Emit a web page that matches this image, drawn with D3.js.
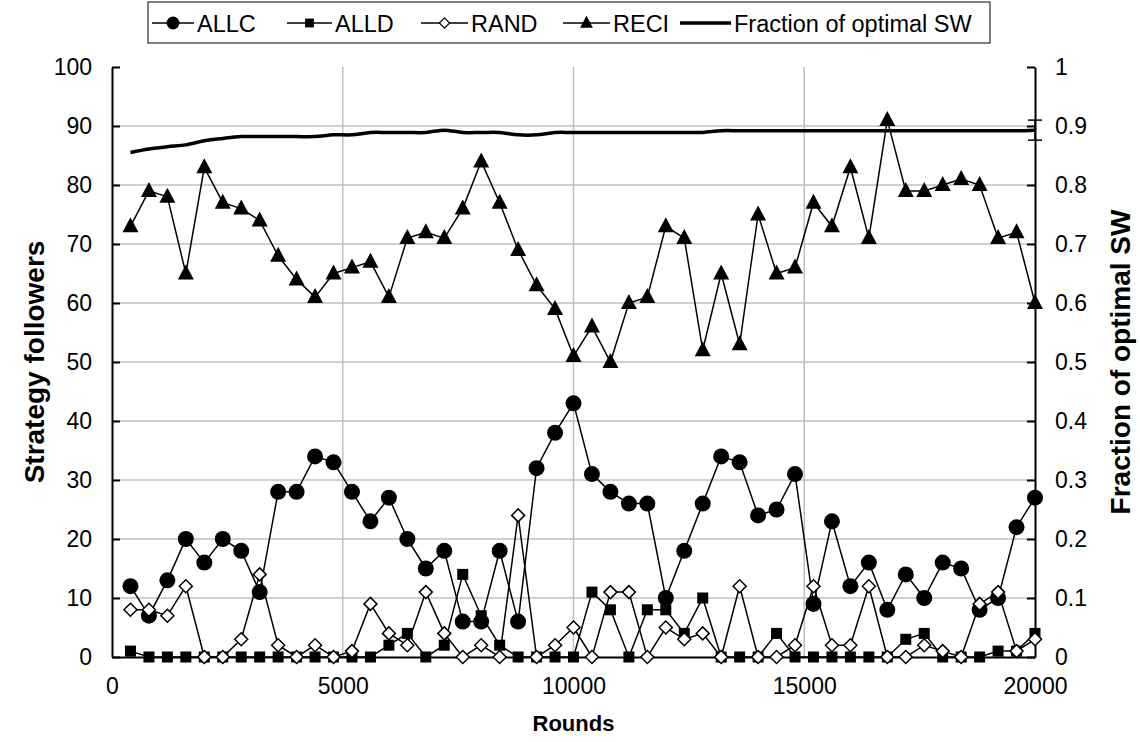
<meta charset="utf-8">
<html>
<head>
<style>
  body { margin: 0; background: #fff; }
  text { font-family: "Liberation Sans", Arial, sans-serif; }
</style>
</head>
<body>
<div id="chart"></div>
<script src="https://d3js.org/d3.v7.min.js"></script>
<script>
// data
var rounds = [400, 800, 1200, 1600, 2000, 2400, 2800, 3200, 3600, 4000,
              4400, 4800, 5200, 5600, 6000, 6400, 6800, 7200, 7600, 8000,
              8400, 8800, 9200, 9600, 10000, 10400, 10800, 11200, 11600, 12000,
              12400, 12800, 13200, 13600, 14000, 14400, 14800, 15200, 15600, 16000,
              16400, 16800, 17200, 17600, 18000, 18400, 18800, 19200, 19600, 20000];
var allc = [12, 7, 13, 20, 16, 20, 18, 11, 28, 28, 34, 33, 28, 23, 27, 20, 15, 18, 6, 6,
            18, 6, 32, 38, 43, 31, 28, 26, 26, 10, 18, 26, 34, 33, 24, 25, 31, 9, 23, 12,
            16, 8, 14, 10, 16, 15, 8, 10, 22, 27];
var alld = [1, 0, 0, 0, 0, 0, 0, 0, 0, 0, 0, 0, 0, 0, 2, 4, 0, 2, 14, 7,
            2, 0, 0, 0, 0, 11, 8, 0, 8, 8, 4, 10, 0, 0, 0, 4, 0, 0, 0, 0,
            0, 0, 3, 4, 0, 0, 0, 1, 1, 4];
var rand = [8, 8, 7, 12, 0, 0, 3, 14, 2, 0, 2, 0, 1, 9, 4, 2, 11, 4, 0, 2,
            0, 24, 0, 2, 5, 0, 11, 11, 0, 5, 3, 4, 0, 12, 0, 0, 2, 12, 2, 2,
            12, 0, 0, 2, 1, 0, 9, 11, 1, 3];
var reci = [73, 79, 78, 65, 83, 77, 76, 74, 68, 64, 61, 65, 66, 67, 61, 71, 72, 71, 76, 84,
            77, 69, 63, 59, 51, 56, 50, 60, 61, 73, 71, 52, 65, 53, 75, 65, 66, 77, 73, 83,
            71, 91, 79, 79, 80, 81, 80, 71, 72, 60];
var fracSW = [0.855, 0.861, 0.865, 0.868, 0.875, 0.879, 0.882, 0.882, 0.882, 0.882,
              0.882, 0.885, 0.885, 0.889, 0.889, 0.889, 0.889, 0.893, 0.889, 0.889,
              0.889, 0.885, 0.885, 0.889, 0.889, 0.889, 0.889, 0.889, 0.889, 0.889,
              0.889, 0.889, 0.892, 0.892, 0.892, 0.892, 0.892, 0.892, 0.892, 0.892,
              0.892, 0.892, 0.892, 0.892, 0.892, 0.892, 0.892, 0.892, 0.892, 0.893];
var fracErr = 0.017;   // error bar on the last point only

var xTicks = [0, 5000, 10000, 15000, 20000];
var yTicksL = [0, 10, 20, 30, 40, 50, 60, 70, 80, 90, 100];
var yTicksR = [0, 0.1, 0.2, 0.3, 0.4, 0.5, 0.6, 0.7, 0.8, 0.9, 1];

var W = 1140, H = 742;
var margin = {top: 67, right: 105, bottom: 85, left: 112};

var svg = d3.select("#chart").append("svg")
    .attr("width", W).attr("height", H);

var x = d3.scaleLinear().domain([0, 20000]).range([margin.left, W - margin.right]);
var yL = d3.scaleLinear().domain([0, 100]).range([H - margin.bottom, margin.top]);
var yR = d3.scaleLinear().domain([0, 1]).range([H - margin.bottom, margin.top]);

// gridlines
svg.append("g").selectAll("line").data(yTicksL.slice(1, -1)).join("line")
    .attr("x1", x(0)).attr("x2", x(20000))
    .attr("y1", d => yL(d)).attr("y2", d => yL(d))
    .attr("stroke", "#c0c0c0").attr("stroke-width", 1.5);
svg.append("g").selectAll("line").data(xTicks.slice(1, -1)).join("line")
    .attr("x1", d => x(d)).attr("x2", d => x(d))
    .attr("y1", yL(0)).attr("y2", yL(100))
    .attr("stroke", "#c0c0c0").attr("stroke-width", 1.5);

// axes
var axL = svg.append("g").attr("transform", "translate(" + x(0) + ",0)")
    .call(d3.axisLeft(yL).tickValues(yTicksL).tickSizeInner(-8).tickSizeOuter(0).tickPadding(20));
var axR = svg.append("g").attr("transform", "translate(" + x(20000) + ",0)")
    .call(d3.axisRight(yR).tickValues(yTicksR).tickSizeInner(-8).tickSizeOuter(0).tickPadding(20)
      .tickFormat(d3.format("~g")));
var axB = svg.append("g").attr("transform", "translate(0," + yL(0) + ")")
    .call(d3.axisBottom(x).tickValues(xTicks).tickSize(0).tickPadding(21).tickFormat(d3.format("d")));
[axL, axR, axB].forEach(function (a) {
  a.select(".domain").attr("stroke", "#000").attr("stroke-width", 2);
  a.selectAll(".tick line").attr("stroke", "#000").attr("stroke-width", 2);
  a.selectAll("text").attr("font-size", 23).attr("fill", "#000")
    .attr("font-family", "Liberation Sans, Arial, sans-serif");
});

// axis titles
svg.append("text").attr("transform", "translate(44," + yL(50) + ") rotate(-90)")
    .attr("text-anchor", "middle").attr("font-size", 28).attr("font-weight", "bold")
    .text("Strategy followers");
svg.append("text").attr("transform", "translate(1130," + yL(50) + ") rotate(-90)")
    .attr("text-anchor", "middle").attr("font-size", 28).attr("font-weight", "bold")
    .text("Fraction of optimal SW");
svg.append("text").attr("x", x(10000)).attr("y", 731)
    .attr("text-anchor", "middle").attr("font-size", 22).attr("font-weight", "bold")
    .text("Rounds");

// marker drawing helper
function marker(sel, type) {
  if (type === "circle") {
    sel.append("circle").attr("r", 8).attr("fill", "#000");
  } else if (type === "square") {
    sel.append("rect").attr("x", -5.5).attr("y", -5.5).attr("width", 11).attr("height", 11).attr("fill", "#000");
  } else if (type === "diamond") {
    sel.append("path").attr("d", "M0,-6.5L6.5,0L0,6.5L-6.5,0Z")
      .attr("fill", "#fff").attr("stroke", "#000").attr("stroke-width", 1.5);
  } else if (type === "triangle") {
    sel.append("path").attr("d", "M0,-9L8,6L-8,6Z").attr("fill", "#000");
  }
}

var series = [
  {name: "ALLC", values: allc, type: "circle"},
  {name: "ALLD", values: alld, type: "square"},
  {name: "RAND", values: rand, type: "diamond"},
  {name: "RECI", values: reci, type: "triangle"}
];

var line = d3.line().x(d => x(d[0])).y(d => yL(d[1]));

series.forEach(function (s) {
  var pts = rounds.map((r, i) => [r, s.values[i]]);
  var g = svg.append("g");
  g.append("path").datum(pts).attr("d", line)
    .attr("fill", "none").attr("stroke", "#000").attr("stroke-width", 1.5);
  g.selectAll("g").data(pts).join("g")
    .attr("transform", d => "translate(" + x(d[0]) + "," + yL(d[1]) + ")")
    .each(function () { marker(d3.select(this), s.type); });
});

// fraction of optimal social welfare (secondary axis)
var fracPts = rounds.map((r, i) => [r, fracSW[i]]);
svg.append("path").datum(fracPts)
  .attr("d", d3.line().curve(d3.curveCatmullRom).x(d => x(d[0])).y(d => yR(d[1])))
  .attr("fill", "none").attr("stroke", "#000").attr("stroke-width", 3.5);

var last = fracPts[fracPts.length - 1];
var eb = svg.append("g").attr("stroke", "#000").attr("stroke-width", 1.5);
eb.append("line").attr("x1", x(last[0])).attr("x2", x(last[0]))
  .attr("y1", yR(last[1] - fracErr)).attr("y2", yR(last[1] + fracErr));
[last[1] - fracErr, last[1] + fracErr].forEach(function (v) {
  eb.append("line").attr("x1", x(last[0]) - 7).attr("x2", x(last[0]) + 7)
    .attr("y1", yR(v)).attr("y2", yR(v));
});

// legend
var leg = svg.append("g");
leg.append("rect").attr("x", 148).attr("y", 2).attr("width", 842).attr("height", 41)
  .attr("fill", "#fff").attr("stroke", "#000").attr("stroke-width", 1);
var legItems = [
  {name: "ALLC", type: "circle", x0: 152, x1: 194},
  {name: "ALLD", type: "square", x0: 287, x1: 332},
  {name: "RAND", type: "diamond", x0: 421, x1: 468},
  {name: "RECI", type: "triangle", x0: 563, x1: 610},
  {name: "Fraction of optimal SW", type: "thick", x0: 680, x1: 731}
];
legItems.forEach(function (d) {
  var cy = 23;
  leg.append("line").attr("x1", d.x0).attr("x2", d.x1).attr("y1", cy).attr("y2", cy)
    .attr("stroke", "#000").attr("stroke-width", d.type === "thick" ? 3.5 : 1.5);
  if (d.type !== "thick") {
    var m = leg.append("g").attr("transform", "translate(" + ((d.x0 + d.x1) / 2) + "," + cy + ") scale(0.8)");
    marker(m, d.type);
  }
  leg.append("text").attr("x", d.x1 + 3).attr("y", cy + 8.5)
    .attr("font-size", 23.5).text(d.name);
});
</script>
</body>
</html>
